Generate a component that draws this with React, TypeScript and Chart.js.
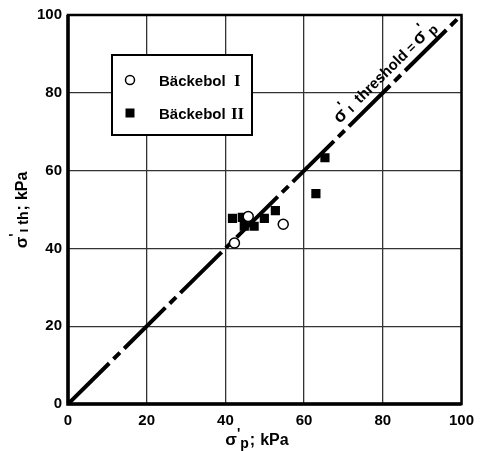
import React, { useEffect, useRef } from "react";
import { Chart, registerables } from "chart.js";
Chart.register(...registerables);

const axisTicks = [0, 20, 40, 60, 80, 100];
const seriesName = "Bäckebol";
const series1Numeral = "I";
const series2Numeral = "II";
const backebol1X = [42.3, 45.8, 54.7];
const backebol1Y = [41.4, 48.2, 46.2];
const backebol2X = [41.8, 44.3, 44.8, 47.3, 49.9, 52.7, 63.0, 65.3];
const backebol2Y = [47.7, 48.0, 45.7, 45.7, 47.7, 49.7, 54.1, 63.3];
const thresholdX = [0, 100];
const thresholdY = [0, 100];
const labelStartValue = 70.5;

type Piece = { t: string; f: string; dy?: number; gap?: number };

function drawRich(ctx: CanvasRenderingContext2D, pieces: Piece[], x: number, y: number, align: "left" | "center") {
  let total = 0;
  for (const p of pieces) {
    ctx.font = p.f;
    total += ctx.measureText(p.t).width + (p.gap || 0);
  }
  let cx = align === "center" ? x - total / 2 : x;
  ctx.textAlign = "left";
  ctx.textBaseline = "alphabetic";
  for (const p of pieces) {
    ctx.font = p.f;
    ctx.fillText(p.t, cx, y + (p.dy || 0));
    cx += ctx.measureText(p.t).width + (p.gap || 0);
  }
}

const SANS = "'Liberation Sans', Arial, sans-serif";
const SERIF = "'Liberation Serif', 'DejaVu Serif', serif";

const decorPlugin = {
  id: "decor",
  afterDraw(chart: any) {
    const ctx: CanvasRenderingContext2D = chart.ctx;
    const { left, right, top, bottom } = chart.chartArea;
    const xs = chart.scales.x;
    const ys = chart.scales.y;
    ctx.save();
    ctx.fillStyle = "#000";
    ctx.strokeStyle = "#000";

    // frame
    ctx.lineWidth = 2.5;
    ctx.strokeRect(left, top, right - left, bottom - top);
    ctx.lineWidth = 3.5;
    ctx.beginPath();
    ctx.moveTo(left, top);
    ctx.lineTo(left, bottom);
    ctx.lineTo(right, bottom);
    ctx.stroke();

    // legend
    const lx = left + 44;
    const ly = top + 40;
    ctx.fillStyle = "#fff";
    ctx.fillRect(lx, ly, 140, 80);
    ctx.lineWidth = 2;
    ctx.strokeRect(lx, ly, 140, 80);
    ctx.fillStyle = "#000";
    ctx.beginPath();
    ctx.arc(lx + 18, ly + 25, 4.5, 0, Math.PI * 2);
    ctx.lineWidth = 1.5;
    ctx.stroke();
    ctx.fillRect(lx + 13.5, ly + 53.5, 9, 9);
    ctx.font = "bold 15px " + SANS;
    ctx.textAlign = "left";
    ctx.textBaseline = "alphabetic";
    ctx.fillText(seriesName, lx + 47, ly + 31);
    ctx.fillText(seriesName, lx + 47, ly + 64);
    ctx.font = "bold 17px " + SERIF;
    ctx.fillText(series1Numeral, lx + 122, ly + 31);
    ctx.fillText(series2Numeral, lx + 119, ly + 64);

    // threshold line label
    const x0 = xs.getPixelForValue(thresholdX[0]);
    const y0 = ys.getPixelForValue(thresholdY[0]);
    const x1 = xs.getPixelForValue(thresholdX[1]);
    const y1 = ys.getPixelForValue(thresholdY[1]);
    const ang = Math.atan2(y1 - y0, x1 - x0);
    const px = xs.getPixelForValue(labelStartValue);
    const py = ys.getPixelForValue(labelStartValue);
    ctx.translate(px, py);
    ctx.rotate(ang);
    drawRich(ctx, [
      { t: "σ", f: "bold 18px " + SANS },
      { t: "'", f: "bold 14px " + SANS, dy: -8, gap: 1 },
      { t: "ı", f: "bold 14px " + SANS, dy: 1, gap: 8 },
      { t: "threshold", f: "bold 15px " + SANS, gap: 4 },
      { t: "=", f: "bold 13px " + SANS, gap: 3 },
      { t: "σ", f: "bold 18px " + SANS },
      { t: "'", f: "bold 14px " + SANS, dy: -8, gap: 1 },
      { t: "p", f: "bold 14px " + SANS, dy: 3 },
    ], 0, -8, "left");
    ctx.setTransform(1, 0, 0, 1, 0, 0);

    // x axis title
    drawRich(ctx, [
      { t: "σ", f: "bold 17px " + SANS },
      { t: "'", f: "bold 14px " + SANS, dy: -7 },
      { t: "p", f: "bold 14px " + SANS, dy: 3, gap: 1 },
      { t: ";", f: "bold 16px " + SANS, gap: 5 },
      { t: "kPa", f: "bold 16px " + SANS },
    ], 257, 445, "center");

    // y axis title
    ctx.translate(27, 210);
    ctx.rotate(-Math.PI / 2);
    drawRich(ctx, [
      { t: "σ", f: "bold 17px " + SANS },
      { t: "'", f: "bold 14px " + SANS, dy: -8, gap: 1 },
      { t: "ı th", f: "bold 14px " + SANS, dy: 1, gap: 1 },
      { t: ";", f: "bold 16px " + SANS, gap: 5 },
      { t: "kPa", f: "bold 16px " + SANS },
    ], 0, 0, "center");
    ctx.restore();
  },
};

export default function App() {
  const ref = useRef<HTMLCanvasElement>(null);
  useEffect(() => {
    const cv = ref.current;
    if (!cv) return;
    const chart = new Chart(cv, {
      type: "scatter",
      data: {
        datasets: [
          {
            label: seriesName + " " + series1Numeral,
            data: backebol1X.map((x, i) => ({ x, y: backebol1Y[i] })),
            pointStyle: "circle",
            pointRadius: 5,
            pointBorderWidth: 1.5,
            pointBackgroundColor: "#fff",
            pointBorderColor: "#000",
            order: 1,
          },
          {
            label: seriesName + " " + series2Numeral,
            data: backebol2X.map((x, i) => ({ x, y: backebol2Y[i] })),
            pointStyle: "rect",
            pointRadius: 6.5,
            pointBorderWidth: 0,
            pointBackgroundColor: "#000",
            pointBorderColor: "#000",
            order: 1,
          },
          {
            label: "threshold",
            data: thresholdX.map((x, i) => ({ x, y: thresholdY[i] })),
            showLine: true,
            borderColor: "#000",
            borderWidth: 4,
            borderDash: [58, 6, 9, 6],
            pointRadius: 0,
            order: 2,
          } as any,
        ],
      },
      options: {
        responsive: false,
        animation: false,
        layout: { padding: { top: 12, right: 19, left: 0, bottom: 0 } },
        plugins: { legend: { display: false }, tooltip: { enabled: false } },
        scales: {
          x: {
            type: "linear",
            min: 0,
            max: 100,
            afterFit: (s: any) => { s.height = 47; },
            afterBuildTicks: (s: any) => { s.ticks = axisTicks.map((v) => ({ value: v })); },
            grid: { color: "#333", lineWidth: 1.3, drawTicks: false },
            border: { display: false },
            ticks: { color: "#000", padding: 8, font: { family: SANS, size: 15, weight: "bold" } },
          },
          y: {
            type: "linear",
            min: 0,
            max: 100,
            afterFit: (s: any) => { s.width = 68; },
            afterBuildTicks: (s: any) => { s.ticks = axisTicks.map((v) => ({ value: v })); },
            grid: { color: "#333", lineWidth: 1.3, drawTicks: false },
            border: { display: false },
            ticks: { color: "#000", padding: 6, font: { family: SANS, size: 15, weight: "bold" } },
          },
        },
      },
      plugins: [decorPlugin],
    } as any);
    return () => chart.destroy();
  }, []);
  return (
    <div style={{ position: "fixed", left: 0, top: 0, width: 482, height: 451, background: "#fff" }}>
      <canvas ref={ref} width={482} height={451} style={{ display: "block", width: 482, height: 451 }} />
    </div>
  );
}
